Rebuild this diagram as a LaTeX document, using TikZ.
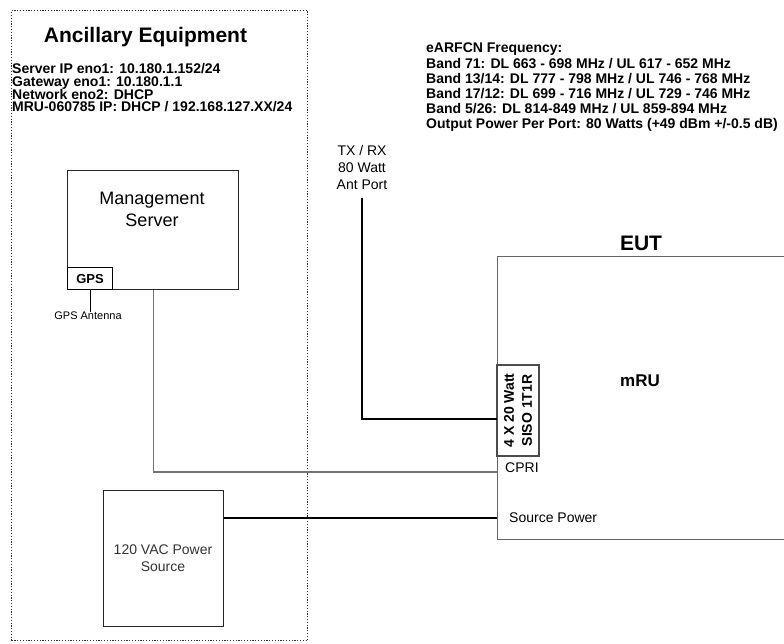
\documentclass[tikz,border=0pt]{standalone}
\usepackage{fontspec}
\setmainfont{Liberation Sans}
\usetikzlibrary{positioning}

\begin{document}
\begin{tikzpicture}[x=1pt,y=-1pt]
\tikzset{boite/.style={draw=#1,line width=1.2pt,inner sep=0pt},
boite/.default={black!85},
texte/.style={inner sep=0pt,font=\fontsize{14}{17}\selectfont},
gras/.style={inner sep=0pt,font=\fontsize{#1}{#1}\selectfont\bfseries},
lien/.style={line width=1.2pt,draw=black!55},
cable/.style={line width=2.8pt}}
\useasboundingbox (0,0) rectangle (784,644);

% equipement auxiliaire
\node[draw=black!80,dash pattern=on 1.2pt off 1.6pt,line width=1.2pt,
  minimum width=296,minimum height=630,anchor=north west] (anc) at (11,10) {};
\node[gras=21,anchor=base] (anc-titre) at (145.5,42.5) {Ancillary Equipment};
\foreach \ligne [count=\i] in {Server IP eno1: 10.180.1.152/24,Gateway eno1: 10.180.1.1,
  Network eno2: DHCP,MRU-060785 IP: DHCP / 192.168.127.XX/24}
  \node[gras=14,anchor=base west] (anc-\i) at (12,{61+12.7*\i}) {\ligne};

\node[boite,minimum width=171,minimum height=119,anchor=north west] (serveur) at (67,170) {};
\node[texte,font=\fontsize{18}{22}\selectfont,align=center,anchor=north] (serveur-nom) at (152,191.5) {Management\\Server};
\node[boite=black,gras=13,minimum width=45,minimum height=22,anchor=north west] (gps) at (67,267) {GPS};
\node[texte,font=\fontsize{11}{13}\selectfont,anchor=north] (antenne) at (88,312) {GPS Antenna};
\draw[line width=1.2pt] (gps.south) -- (gps.south |- antenne.north);

\node[boite,minimum width=120,minimum height=136,anchor=north west] (alim) at (103,490) {};
\node[texte,text=black!80,align=center,anchor=north] (alim-nom) at (163,545) {120 VAC Power\\Source};

% frequences
\foreach \ligne [count=\i] in {eARFCN Frequency:,Band 71: DL 663 - 698 MHz / UL 617 - 652 MHz,
  Band 13/14: DL 777 - 798 MHz / UL 746 - 768 MHz,Band 17/12: DL 699 - 716 MHz / UL 729 - 746 MHz,
  Band 5/26: DL 814-849 MHz / UL 859-894 MHz,Output Power Per Port: 80 Watts (+49 dBm +/-0.5 dB)}
  \node[gras=14,anchor=base west] (freq-\i) at (426,{37.8+15.2*\i}) {\ligne};

% EUT
\node[boite=black!60,minimum width=300,minimum height=283,anchor=north west] (eut) at (497,256) {};
\node[gras=21,anchor=base] (eut-nom) at (641,250.5) {EUT};
\node[gras=17,anchor=base] (mru) at (640,386) {mRU};
\node[boite=black!70,rotate=90,minimum width=91,minimum height=42,align=center,
  font=\fontsize{14}{18}\selectfont\bfseries] (siso) at (518,410.5) {4 X 20 Watt\\SISO 1T1R};
\node[texte,anchor=west] (cpri) at (505,468) {CPRI};
\node[texte,anchor=west] (source) at (509,518) {Source Power};
\node[texte,align=center,anchor=north] (port) at (362,145) {TX / RX\\80 Watt\\Ant Port};

\coordinate (port-in) at (497,419);
\coordinate (cpri-in) at (497,472);
\draw[cable] ([yshift=-8pt]port.south) |- (port-in);
\draw[lien] (serveur.south) |- (cpri-in);
\draw[cable] (alim.east |- source.west) -- (eut.west |- source.west);
\end{tikzpicture}
\end{document}
